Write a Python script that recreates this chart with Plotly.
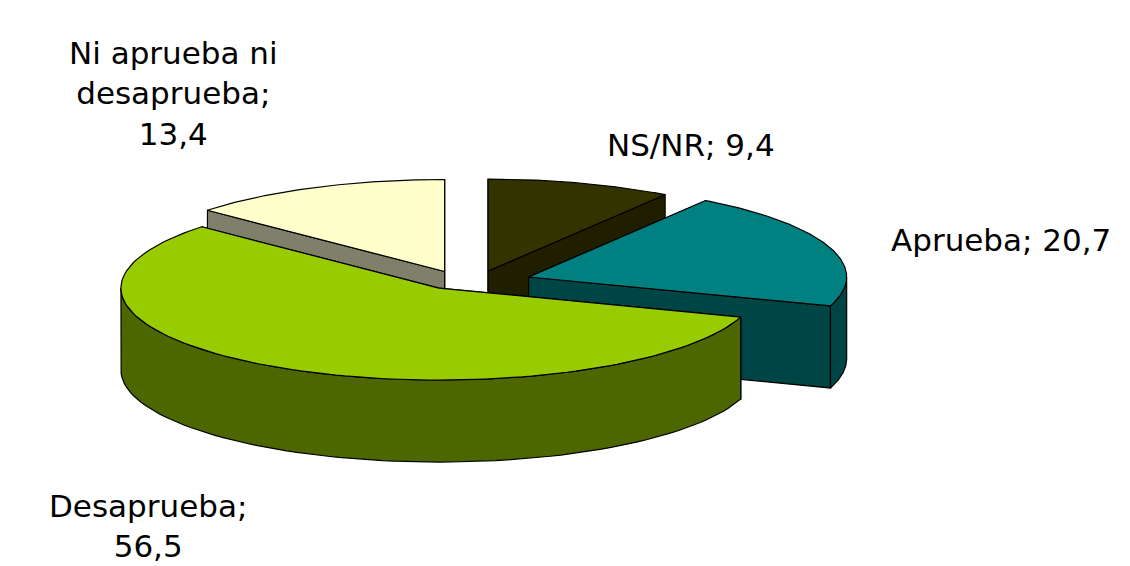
import numpy as np
import plotly.graph_objects as go

labels = ["NS/NR", "Aprueba", "Desaprueba", "Ni aprueba ni desaprueba"]
values = [9.4, 20.7, 56.5, 13.4]
top_colors = ["#333300", "#008080", "#99cc00", "#ffffcc"]
wall_colors = ["#1f1f00", "#004545", "#4c6600", "#80806a"]

W, H = 1130, 566
cx, cy, rx, ry, depth = 462, 272, 318, 92, 82
explode = 62

fig = go.Figure()


def pt(t, ox, oy, dz=0):
    return ox + rx * np.sin(t), oy - ry * np.cos(t) + dz


def poly(xs, ys, color):
    fig.add_trace(go.Scatter(x=list(xs) + [xs[0]], y=list(ys) + [ys[0]], fill="toself",
                             fillcolor=color, mode="lines", line=dict(color="black", width=1.2),
                             hoverinfo="skip", showlegend=False))


total = sum(values)
starts = np.cumsum([0] + values[:-1]) / total * 2 * np.pi
ends = np.cumsum(values) / total * 2 * np.pi
slices = []
for i in range(len(values)):
    mid = (starts[i] + ends[i]) / 2
    ox = cx + explode * np.sin(mid)
    oy = cy - explode * 0.15 * np.cos(mid)
    slices.append((oy - 40 * np.cos(mid), i, ox, oy))

for _, i, ox, oy in sorted(slices):
    a0, a1 = starts[i], ends[i]
    # radial walls
    for a in (a0, a1):
        ex, ey = pt(a, ox, oy)
        poly([ox, ex, ex, ox], [oy, ey, ey + depth, oy + depth], wall_colors[i])
    # outer wall (front half only)
    lo, hi = max(a0, np.pi / 2), min(a1, 3 * np.pi / 2)
    if hi > lo:
        t = np.linspace(lo, hi, 80)
        x, y = pt(t, ox, oy)
        poly(np.concatenate([x, x[::-1]]), np.concatenate([y, (y + depth)[::-1]]), wall_colors[i])
    # top
    t = np.linspace(a0, a1, 120)
    x, y = pt(t, ox, oy)
    poly(np.concatenate([[ox], x]), np.concatenate([[oy], y]), top_colors[i])

font = dict(family="DejaVu Sans", size=31, color="black")
ann = [
    ("NS/NR; 9,4", 683, 137),
    ("Aprueba; 20,7", 993, 232),
    ("Ni aprueba ni<br>desaprueba;<br>13,4", 165, 85),
    ("Desaprueba;<br>56,5", 140, 518),
]
for text, x, y in ann:
    fig.add_annotation(x=x, y=y, xref="x", yref="y", text=text, showarrow=False,
                       font=font, align="center")

fig.update_xaxes(range=[0, W], visible=False)
fig.update_yaxes(range=[H, 0], visible=False)
fig.update_layout(width=W, height=H, margin=dict(l=0, r=0, t=0, b=0),
                  plot_bgcolor="white", paper_bgcolor="white")
fig.write_html("out.html")
